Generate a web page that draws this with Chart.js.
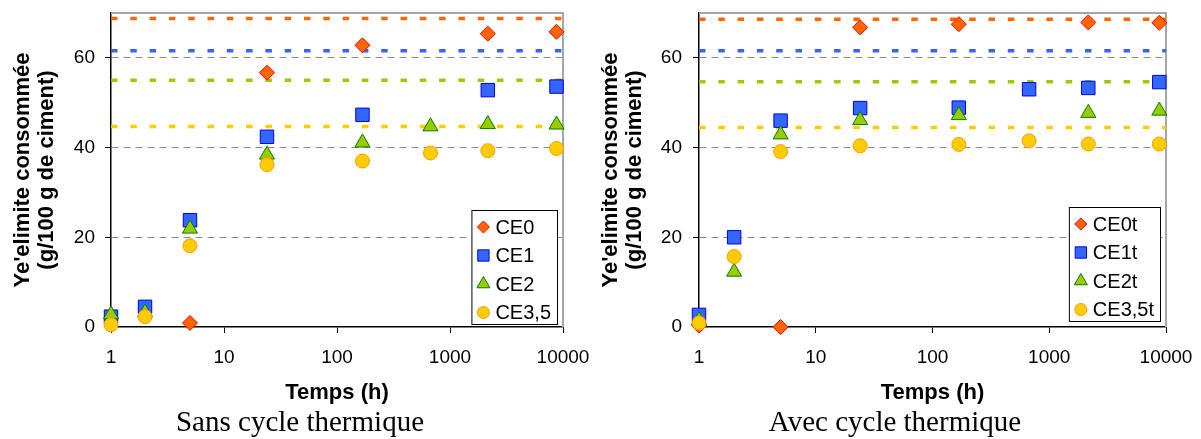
<!DOCTYPE html>
<html>
<head>
<meta charset="utf-8">
<script src="https://cdn.jsdelivr.net/npm/chart.js@4.4.0/dist/chart.umd.min.js"></script>
<style>
  body { margin: 0; background: #fff; width: 1201px; height: 439px; overflow: hidden; position: relative; }
  .panel { position: absolute; top: 0; width: 600px; height: 439px; }
</style>
</head>
<body>
<div class="panel" style="left:0"><canvas id="left" width="600" height="439"></canvas></div>
<div class="panel" style="left:595px"><canvas id="right" width="600" height="439"></canvas></div>
<script>
// time in hours
const timeH = [1, 2, 5, 24, 168, 672, 2160, 8760];
const xTicks = [1, 10, 100, 1000, 10000];

// sans cycle thermique
const namesLeft = ['CE0', 'CE1', 'CE2', 'CE3,5'];
const ce0 = [null, null, 0.9, 56.7, 62.8, null, 65.4, 65.8];
const ce1 = [2.3, 4.5, 23.8, 42.4, 47.3, null, 52.8, 53.6];
const ce2 = [2.8, 3.2, 21.9, 38.4, 41.1, 44.7, 45.2, 45.1];
const ce35 = [0.5, 2.3, 18.1, 36.2, 37.0, 38.8, 39.3, 39.8];
const limitsLeft = [68.8, 61.6, 55.0, 44.7];

// avec cycle thermique
const namesRight = ['CE0t', 'CE1t', 'CE2t', 'CE3,5t'];
const ce0t = [0.3, null, 0, 66.8, 67.5, null, 67.9, 67.8];
const ce1t = [2.7, 20.0, 46.0, 48.8, 48.9, 53.0, 53.3, 54.6];
const ce2t = [1.5, 12.3, 42.9, 46.1, 47.2, null, 47.7, 48.2];
const ce35t = [0.9, 15.7, 39.1, 40.4, 40.7, 41.5, 40.8, 40.8];
const limitsRight = [68.6, 61.6, 54.7, 44.5];

const styles = [
  { shape: 'rectRot', r: 7.5, fill: '#FF6600', stroke: '#FF0000', line: '#FF6600' },
  { shape: 'rect', r: 9.5, fill: '#3366FF', stroke: '#0000EE', line: '#3366FF' },
  { shape: 'triangle', r: 8.7, fill: '#99CC00', stroke: '#008000', line: '#99CC00' },
  { shape: 'circle', r: 7, fill: '#FFCC00', stroke: '#FF9900', line: '#FFCC00' },
];

const sans = '"Liberation Sans", Arial, sans-serif';

function marker(ctx, shape, x, y, r) {
  ctx.beginPath();
  if (shape === 'rectRot') {
    ctx.moveTo(x - r, y); ctx.lineTo(x, y - r); ctx.lineTo(x + r, y); ctx.lineTo(x, y + r);
  } else if (shape === 'rect') {
    const s = r * Math.SQRT1_2;
    ctx.rect(x - s, y - s, 2 * s, 2 * s);
  } else if (shape === 'triangle') {
    const w = r * Math.sin(Math.PI / 3);
    ctx.moveTo(x, y - r); ctx.lineTo(x + w, y + r / 2); ctx.lineTo(x - w, y + r / 2);
  } else {
    ctx.arc(x, y, r, 0, Math.PI * 2);
  }
  ctx.closePath();
  ctx.fill();
  ctx.stroke();
}

const framePlugin = {
  id: 'frame',
  beforeDatasetsDraw(chart) {
    const { ctx, chartArea: a } = chart;
    ctx.save();
    ctx.strokeStyle = '#a6a6a6';
    ctx.lineWidth = 2;
    ctx.beginPath();
    ctx.moveTo(a.left, a.top);
    ctx.lineTo(a.right, a.top);
    ctx.lineTo(a.right, a.bottom);
    ctx.stroke();
    ctx.restore();
  },
  afterDatasetsDraw(chart, args, opts) {
    const { ctx, chartArea: a } = chart;
    ctx.save();
    ctx.font = '20px ' + sans;
    const names = opts.names;
    const tw = Math.max(...names.map(n => ctx.measureText(n).width));
    const w = 24 + tw + 6;
    const h = 114;
    const x0 = a.right - 6 - w;
    const y0 = a.bottom - opts.bottomGap - h;
    ctx.fillStyle = '#fff';
    ctx.fillRect(x0, y0, w, h);
    ctx.strokeStyle = '#000';
    ctx.lineWidth = 1;
    ctx.strokeRect(x0 + 0.5, y0 + 0.5, w, h);
    const sizes = [6, 8, 7.5, 6];
    names.forEach((n, i) => {
      const yy = y0 + 17 + i * 28.5;
      const st = styles[i];
      ctx.fillStyle = st.fill;
      ctx.strokeStyle = st.stroke;
      ctx.lineWidth = 1;
      marker(ctx, st.shape, x0 + 12, yy, sizes[i]);
      ctx.fillStyle = '#000';
      ctx.textBaseline = 'middle';
      ctx.textAlign = 'left';
      ctx.fillText(n, x0 + 24, yy + 1);
    });
    ctx.restore();
  }
};

function makeChart(id, cfg) {
  const datasets = [];
  cfg.series.forEach((vals, i) => {
    const st = styles[i];
    datasets.push({
      label: cfg.names[i],
      data: timeH.map((t, j) => ({ x: t, y: vals[j] })).filter(p => p.y !== null),
      pointStyle: st.shape,
      pointRadius: st.r,
      pointHoverRadius: st.r,
      pointBackgroundColor: st.fill,
      pointBorderColor: st.stroke,
      pointBorderWidth: 1,
      showLine: false,
      clip: false,
      order: 4 - i,
    });
  });
  cfg.limits.forEach((v, i) => {
    datasets.push({
      label: 'lim' + i,
      data: [{ x: 1, y: v }, { x: 10000, y: v }],
      showLine: true,
      borderColor: styles[i].line,
      borderWidth: 3.5,
      borderDash: [6.5, 12.8],
      pointRadius: 0,
      order: 10,
    });
  });

  return new Chart(document.getElementById(id), {
    type: 'scatter',
    data: { datasets },
    options: {
      responsive: false,
      animation: false,
      devicePixelRatio: 1,
      events: [],
      layout: { padding: 0 },
      plugins: {
        legend: { display: false },
        tooltip: { enabled: false },
        title: {
          display: true,
          position: 'bottom',
          text: cfg.caption,
          color: '#000',
          font: { family: '"Liberation Serif", "Times New Roman", serif', size: 29, weight: 'normal', lineHeight: 1 },
          padding: { top: 0, bottom: 1.5 },
        },
        frame: { names: cfg.names, bottomGap: cfg.legendGap },
      },
      scales: {
        x: {
          type: 'logarithmic',
          min: 1,
          max: 10000,
          afterBuildTicks: s => { s.ticks = xTicks.map(v => ({ value: v })); },
          afterFit: s => {
            s.height = 81.5;
            s.paddingLeft = 0;
            s.paddingRight = cfg.padRight;
          },
          ticks: {
            callback: v => String(v),
            color: '#000',
            font: { family: sans, size: 19 },
            padding: 13.5,
            maxRotation: 0,
            autoSkip: false,
          },
          grid: { drawOnChartArea: false, drawTicks: true, tickLength: 6, tickColor: '#000', lineWidth: 1 },
          border: { color: '#000', width: 1.5 },
          title: {
            display: true,
            text: 'Temps (h)',
            color: '#000',
            font: { family: sans, size: 22, weight: 'bold', lineHeight: 1 },
            padding: { top: 0, bottom: 4.5 },
          },
        },
        y: {
          min: 0,
          max: 70,
          afterBuildTicks: s => { s.ticks = s.ticks.filter(t => t.value % 20 === 0); },
          afterFit: s => {
            s.width = cfg.yWidth;
            s.paddingTop = 13;
            s.paddingBottom = 0;
          },
          ticks: {
            stepSize: 20,
            color: '#000',
            font: { family: sans, size: 19 },
            padding: cfg.yPad,
          },
          grid: {
            color: c => (c.tick && c.tick.value === 0 ? 'rgba(0,0,0,0)' : '#8c8c8c'),
            tickColor: '#000',
            tickLength: 6,
            lineWidth: 1,
          },
          border: { color: '#000', width: 1.5, dash: [7, 5] },
          title: {
            display: true,
            text: ["Ye'elimite consommée", '(g/100 g de ciment)'],
            color: '#000',
            font: { family: sans, size: 22, weight: 'bold', lineHeight: 1.1 },
            padding: { top: cfg.titlePad, bottom: 0 },
          },
        },
      },
    },
    plugins: [framePlugin],
  });
}

makeChart('left', {
  names: namesLeft,
  series: [ce0, ce1, ce2, ce35],
  limits: limitsLeft,
  caption: 'Sans cycle thermique',
  padRight: 37,
  yWidth: 111,
  yPad: 10,
  titlePad: 11,
  legendGap: 3,
});

makeChart('right', {
  names: namesRight,
  series: [ce0t, ce1t, ce2t, ce35t],
  limits: limitsRight,
  caption: 'Avec cycle thermique',
  padRight: 29,
  yWidth: 104,
  yPad: 11,
  titlePad: 3.5,
  legendGap: 6,
});
</script>
</body>
</html>
